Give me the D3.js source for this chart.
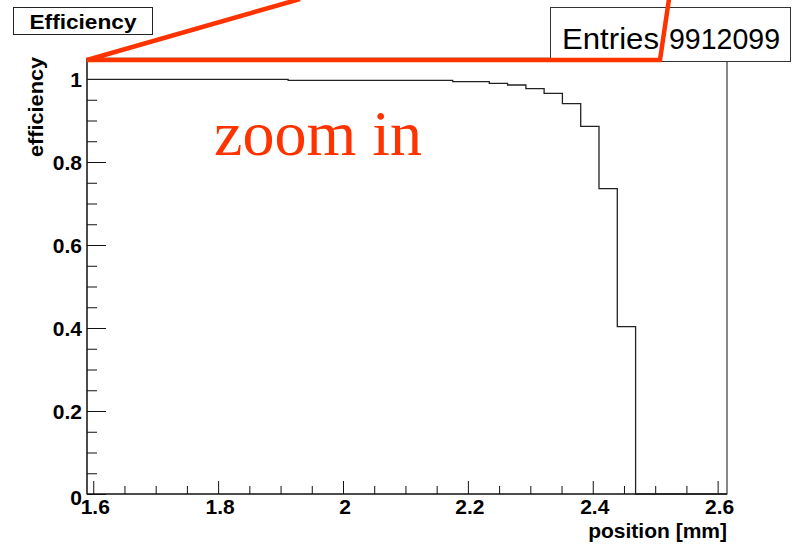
<!DOCTYPE html>
<html>
<head>
<meta charset="utf-8">
<script src="https://cdn.jsdelivr.net/npm/d3@7"></script>
<style>
  html, body { margin: 0; padding: 0; background: #fff; }
  svg { display: block; }
</style>
</head>
<body>
<svg id="chart" width="803" height="544"></svg>
<script>
// ---- data ----
const binEdges = [1.5900, 1.6193, 1.6486, 1.6779, 1.7071, 1.7364, 1.7657, 1.7950, 1.8243, 1.8536,
                  1.8829, 1.9121, 1.9414, 1.9707, 2.0000, 2.0293, 2.0586, 2.0879, 2.1171, 2.1464,
                  2.1757, 2.2050, 2.2343, 2.2636, 2.2929, 2.3221, 2.3514, 2.3807, 2.4100, 2.4393,
                  2.4686, 2.4979, 2.5271, 2.5564, 2.5857, 2.6150];
const efficiency = [0.9993, 0.9993, 0.9993, 0.9993, 0.9993, 0.9993, 0.9993, 0.9993, 0.9993, 0.9993,
                    0.9993, 0.9969, 0.9969, 0.9969, 0.9969, 0.9969, 0.9969, 0.9969, 0.9969, 0.9969,
                    0.9935, 0.9935, 0.9896, 0.9855, 0.9766, 0.9655, 0.9405, 0.8860, 0.7357, 0.4031,
                    0, 0, 0, 0, 0];
const xMajorTicks = [1.6, 1.8, 2.0, 2.2, 2.4, 2.6];
const xMinorTicks = [1.65, 1.7, 1.75, 1.85, 1.9, 1.95, 2.05, 2.1, 2.15, 2.25, 2.3, 2.35, 2.45, 2.5, 2.55];
const yMajorTicks = [0, 0.2, 0.4, 0.6, 0.8, 1.0];
const yMinorTicks = [0.05, 0.1, 0.15, 0.25, 0.3, 0.35, 0.45, 0.5, 0.55, 0.65, 0.7, 0.75, 0.85, 0.9, 0.95, 1.0];
const titleText = "Efficiency";
const entriesLabel = "Entries";
const entriesValue = "9912099";
const xTitle = "position [mm]";
const yTitle = "efficiency";
const annotation = "zoom in";

// ---- layout ----
const svg = d3.select("#chart");
const L = 87, R = 727, B = 494, T = 58.25;
const x = d3.scaleLinear().domain([1.59, 2.615]).range([L, R]);
const y = d3.scaleLinear().domain([0, 1.05]).range([B, T]);
const fontB = "'Liberation Sans', Arial, Helvetica, sans-serif";
const fmt = d => (d === 0 ? "0" : d3.format("~g")(d));

// frame
svg.append("rect").attr("x", L).attr("y", T).attr("width", R - L).attr("height", B - T)
  .attr("fill", "none").attr("stroke", "#111").attr("stroke-width", 1);

// x axis minor
const gxMinor = svg.append("g").attr("transform", `translate(0,${B})`)
  .call(d3.axisBottom(x).tickValues(xMinorTicks).tickSize(-8).tickFormat(""));
gxMinor.select(".domain").remove();
// x axis major
const gx = svg.append("g").attr("transform", `translate(0,${B})`)
  .call(d3.axisBottom(x).tickValues(xMajorTicks).tickSize(-13).tickFormat(fmt));
gx.select(".domain").remove();
gx.selectAll("text").attr("x", 1.5).attr("y", 19.5).attr("dy", 0)
  .attr("font-family", fontB).attr("font-weight", "bold").attr("font-size", 21).attr("fill", "#000");

// y axis minor
const gyMinor = svg.append("g").attr("transform", `translate(${L},0)`)
  .call(d3.axisLeft(y).tickValues(yMinorTicks).tickSize(-10).tickFormat(""));
gyMinor.select(".domain").remove();
// y axis major
const gy = svg.append("g").attr("transform", `translate(${L},0)`)
  .call(d3.axisLeft(y).tickValues(yMajorTicks).tickSize(-19).tickPadding(5).tickFormat(fmt));
gy.select(".domain").remove();
gy.selectAll("text").attr("font-family", fontB).attr("font-weight", "bold")
  .attr("font-size", 21).attr("fill", "#000")
  .attr("dy", d => (d === 0 ? "0.5em" : "0.36em"));
svg.selectAll(".tick line").attr("stroke", "#111");

// axis lines
svg.append("line").attr("x1", L).attr("x2", R).attr("y1", B).attr("y2", B).attr("stroke", "#111");
svg.append("line").attr("x1", L).attr("x2", L).attr("y1", T).attr("y2", B).attr("stroke", "#111");

// histogram
const pts = efficiency.map((v, i) => [binEdges[i], v]);
pts.push([binEdges[binEdges.length - 1], efficiency[efficiency.length - 1]]);
svg.append("path")
  .attr("d", d3.line().x(d => x(d[0])).y(d => y(d[1])).curve(d3.curveStepAfter)(pts))
  .attr("fill", "none").attr("stroke", "#222").attr("stroke-width", 1.3);

// axis titles
svg.append("text").attr("x", R).attr("y", 538).attr("text-anchor", "end")
  .attr("font-family", fontB).attr("font-weight", "bold").attr("font-size", 21).text(xTitle);
svg.append("text").attr("transform", "translate(43,57) rotate(-90)").attr("text-anchor", "end")
  .attr("font-family", fontB).attr("font-weight", "bold").attr("font-size", 20)
  .attr("textLength", 100).attr("lengthAdjust", "spacingAndGlyphs").text(yTitle);

// title box
svg.append("rect").attr("x", 13.5).attr("y", 7.5).attr("width", 139).attr("height", 27)
  .attr("fill", "#fff").attr("stroke", "#222").attr("stroke-width", 1);
svg.append("text").attr("x", 83).attr("y", 28.5).attr("text-anchor", "middle")
  .attr("font-family", fontB).attr("font-weight", "bold").attr("font-size", 20)
  .attr("textLength", 107).attr("lengthAdjust", "spacingAndGlyphs").text(titleText);

// stats box
svg.append("rect").attr("x", 550.5).attr("y", 7.5).attr("width", 240).attr("height", 54)
  .attr("fill", "#fff").attr("stroke", "#333").attr("stroke-width", 1);
svg.append("text").attr("x", 562).attr("y", 48.5)
  .attr("font-family", fontB).attr("font-size", 30)
  .attr("textLength", 97).attr("lengthAdjust", "spacingAndGlyphs").text(entriesLabel);
svg.append("text").attr("x", 780).attr("y", 48.5).attr("text-anchor", "end")
  .attr("font-family", fontB).attr("font-size", 30)
  .attr("textLength", 111).attr("lengthAdjust", "spacingAndGlyphs").text(entriesValue);

// red zoom annotation
const red = "#ff3300";
svg.append("path")
  .attr("d", `M300,-1 L${L},60 L660,60 L669,-1`)
  .attr("fill", "none").attr("stroke", red).attr("stroke-width", 4.5)
  .attr("stroke-linejoin", "miter");
svg.append("text").attr("x", 214).attr("y", 155)
  .attr("font-family", "'Liberation Serif', 'Times New Roman', serif").attr("font-size", 64)
  .attr("fill", red).text(annotation);
</script>
</body>
</html>
